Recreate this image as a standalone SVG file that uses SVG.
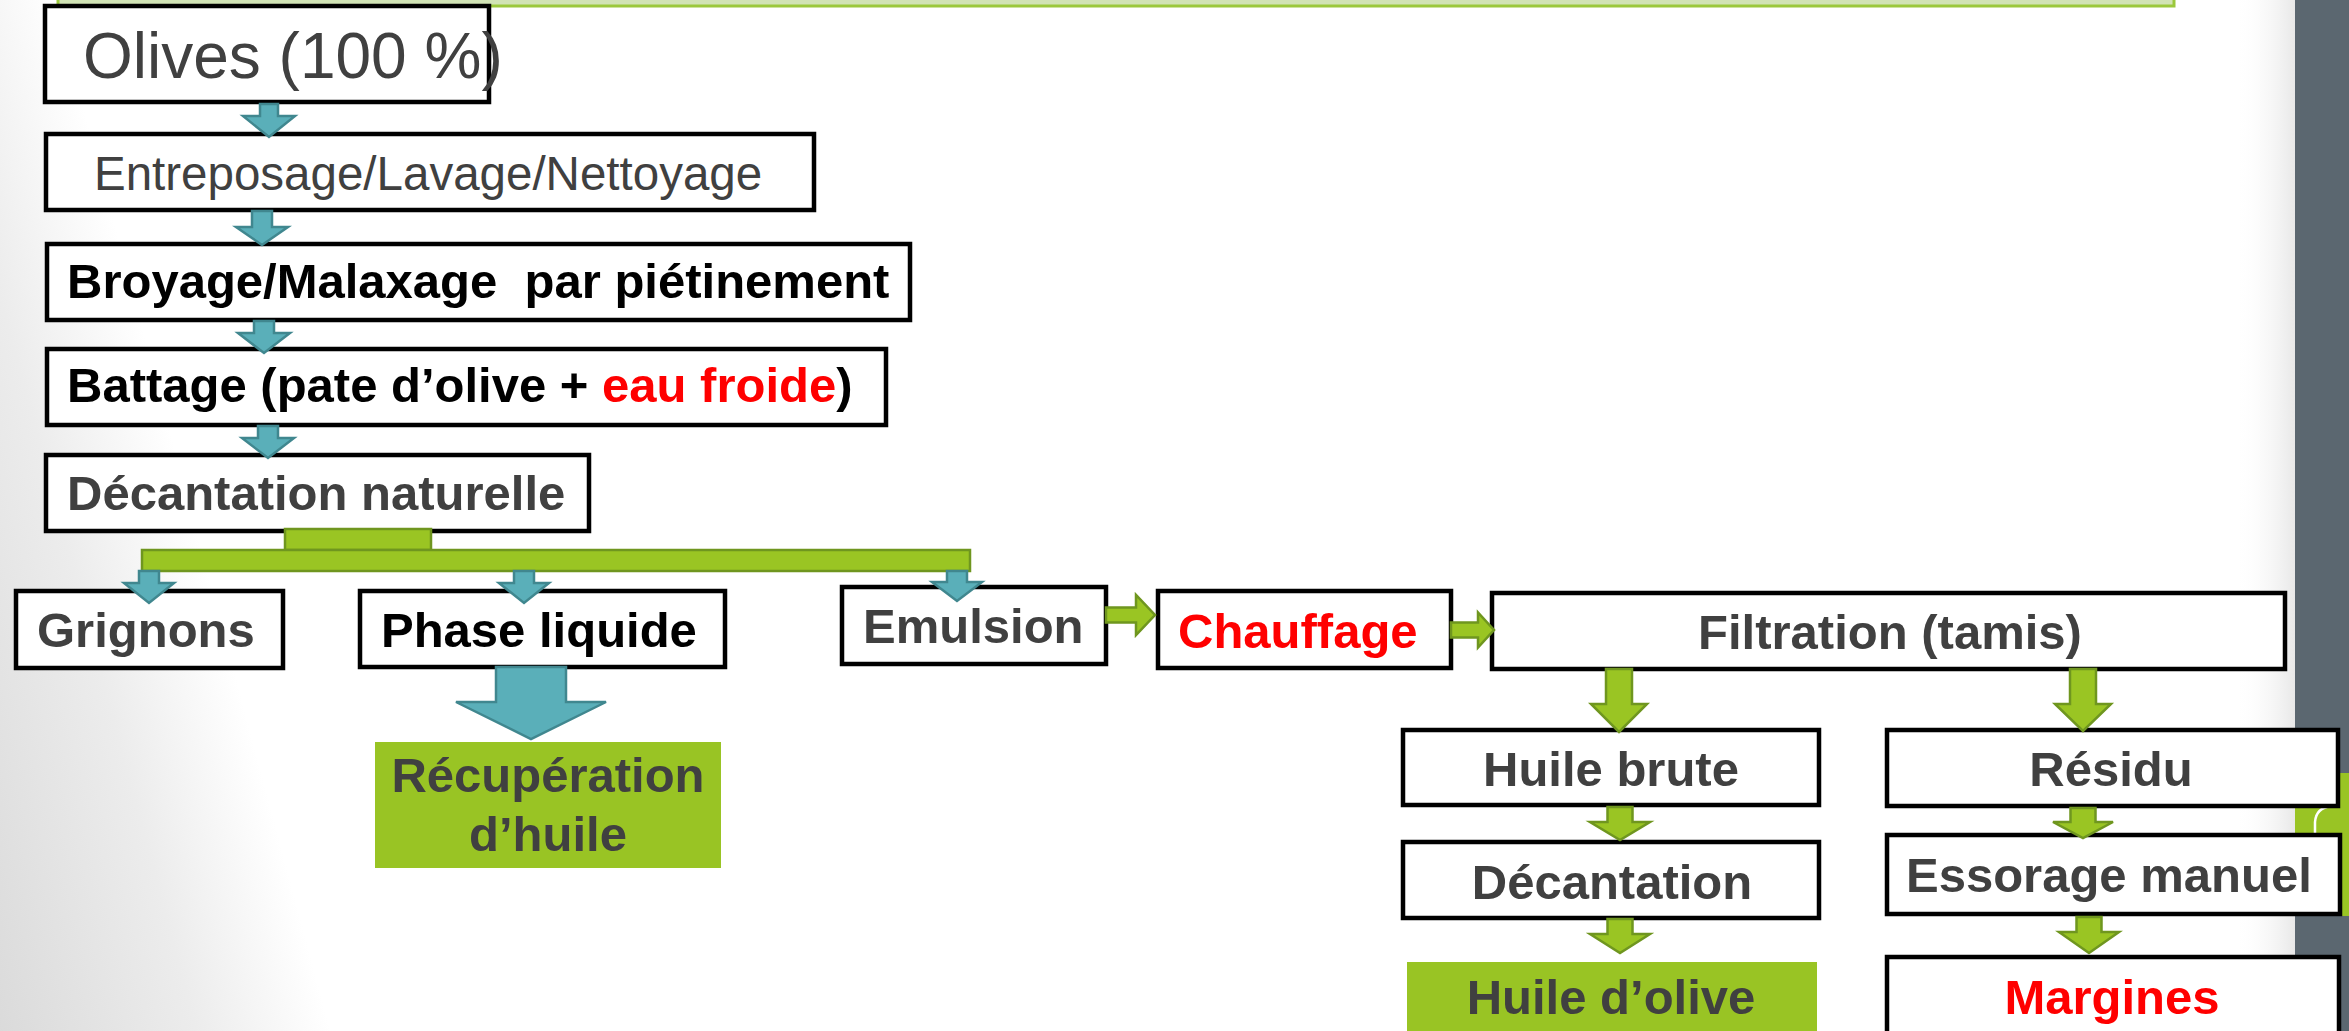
<svg xmlns="http://www.w3.org/2000/svg" width="2349" height="1031" viewBox="0 0 2349 1031">
<defs>
<style>
.box{fill:#fff;stroke:#000;stroke-width:4.5}
.gbox{fill:#99c424}
.t{font-family:"Liberation Sans",Arial,sans-serif}
.b{font-weight:bold;font-size:49px}
.g{fill:#404040}
.k{fill:#000}
.r{fill:#ff0000}
.teal{fill:#5aafb9;stroke:#40878f;stroke-width:2.5;stroke-linejoin:miter}
.grn{fill:#9ac523;stroke:#6f961f;stroke-width:2.5}
.mid{text-anchor:middle}
</style>
<linearGradient id="bgL" gradientUnits="userSpaceOnUse" x1="-259" y1="84" x2="55" y2="0">
<stop offset="0" stop-color="#dadada"/>
<stop offset="0.6" stop-color="#ececec"/>
<stop offset="1" stop-color="#ffffff"/>
</linearGradient>
<linearGradient id="shadowR" x1="0" y1="0" x2="1" y2="0">
<stop offset="0" stop-color="#ffffff" stop-opacity="0"/>
<stop offset="1" stop-color="#e8e8e8"/>
</linearGradient>
</defs>

<rect x="0" y="0" width="2349" height="1031" fill="#fff"/>
<polygon points="0,0 65,0 360,1031 0,1031" fill="url(#bgL)"/>
<rect x="2235" y="0" width="60" height="1031" fill="url(#shadowR)"/>
<rect x="58" y="-10" width="2116" height="16" fill="#d1e3b5" stroke="#9bc83c" stroke-width="3"/>
<rect x="2295" y="0" width="54" height="1031" fill="#5b6770"/>
<rect x="2295" y="773" width="54" height="143" fill="#99c424"/>
<path d="M2315,838 L2315,822 Q2316,808 2331,806" fill="none" stroke="#fff" stroke-width="2.5"/>

<g id="olives">
<rect class="box" x="45" y="6" width="444" height="96"/>
<text class="t g" x="83" y="78" font-size="64">Olives (100 %)</text>
</g>
<g id="entreposage">
<rect class="box" x="46" y="134" width="768" height="76"/>
<text class="t g" x="94" y="190" font-size="47.5">Entreposage/Lavage/Nettoyage</text>
</g>
<g id="broyage">
<rect class="box" x="47" y="244" width="863" height="76"/>
<text class="t b k" x="67" y="298" xml:space="preserve">Broyage/Malaxage  par piétinement</text>
</g>
<g id="battage">
<rect class="box" x="47" y="349" width="839" height="76"/>
<text class="t b k" x="67" y="402">Battage (pate d’olive + <tspan class="r">eau froide</tspan>)</text>
</g>
<g id="decantation-naturelle">
<rect class="box" x="46" y="455" width="543" height="76"/>
<text class="t b g" x="67" y="510">Décantation naturelle</text>
</g>
<g id="grignons">
<rect class="box" x="16" y="591" width="267" height="77"/>
<text class="t b g" x="37" y="647">Grignons</text>
</g>
<g id="phase-liquide">
<rect class="box" x="360" y="591" width="365" height="76"/>
<text class="t b k" x="381" y="647">Phase liquide</text>
</g>
<g id="emulsion">
<rect class="box" x="842" y="587" width="264" height="77"/>
<text class="t b g" x="863" y="643">Emulsion</text>
</g>
<g id="recuperation">
<rect class="gbox" x="375" y="742" width="346" height="126"/>
<text class="t b g mid" x="548" y="792">Récupération</text>
<text class="t b g mid" x="548" y="851">d’huile</text>
</g>
<g id="chauffage">
<rect class="box" x="1158" y="591" width="293" height="77"/>
<text class="t b r" x="1178" y="648">Chauffage</text>
</g>
<g id="filtration">
<rect class="box" x="1492" y="593" width="793" height="76"/>
<text class="t b g mid" x="1890" y="649">Filtration (tamis)</text>
</g>
<g id="huile-brute">
<rect class="box" x="1403" y="730" width="416" height="75"/>
<text class="t b g mid" x="1611" y="786">Huile brute</text>
</g>
<g id="residu">
<rect class="box" x="1887" y="730" width="451" height="76"/>
<text class="t b g mid" x="2111" y="786">Résidu</text>
</g>
<g id="decantation">
<rect class="box" x="1403" y="842" width="416" height="76"/>
<text class="t b g mid" x="1612" y="899">Décantation</text>
</g>
<g id="essorage">
<rect class="box" x="1887" y="835" width="453" height="79"/>
<text class="t b g" x="1906" y="892">Essorage manuel</text>
</g>
<g id="huile-olive">
<rect class="gbox" x="1407" y="962" width="410" height="80"/>
<text class="t b g mid" x="1611" y="1014">Huile d’olive</text>
</g>
<g id="margines">
<rect class="box" x="1887" y="957" width="452" height="100"/>
<text class="t b r mid" x="2112" y="1014">Margines</text>
</g>

<g id="connectors">
<polygon class="teal" points="260,104 278,104 278,116 295,116 269,137 243,116 260,116"/>
<polygon class="teal" points="252,211 272,211 272,227 288,227 262,245 236,227 252,227"/>
<polygon class="teal" points="254,321 274,321 274,333 290,333 264,353 238,333 254,333"/>
<polygon class="teal" points="258,426 278,426 278,438 294,438 268,458 242,438 258,438"/>
<rect class="grn" x="285" y="529" width="146" height="21"/>
<rect class="grn" x="142" y="550" width="828" height="21"/>
<polygon class="teal" points="139,571 159,571 159,583 174,583 149,603 124,583 139,583"/>
<polygon class="teal" points="514,571 534,571 534,583 549,583 524,603 499,583 514,583"/>
<polygon class="teal" points="947,571 967,571 967,582 982,582 957,601 932,582 947,582"/>
<polygon class="teal" points="496,667 566,667 566,702 606,702 531,739 456,702 496,702"/>
<polygon class="grn" points="1106,607.5 1136,607.5 1136,595 1155,615 1136,635 1136,622.5 1106,622.5"/>
<polygon class="grn" points="1451,622.5 1478,622.5 1478,612.5 1494,630 1478,647.5 1478,637.5 1451,637.5"/>
<polygon class="grn" points="1606,669 1632,669 1632,704 1647,704 1619,732 1591,704 1606,704"/>
<polygon class="grn" points="2070,669 2096,669 2096,704 2111,704 2083,731 2055,704 2070,704"/>
<polygon class="grn" points="1607.5,807 1632.5,807 1632.5,822 1650,822 1620,840 1590,822 1607.5,822"/>
<polygon class="grn" points="2070.5,808 2095.5,808 2095.5,822 2113,822 2083,838 2053,822 2070.5,822"/>
<polygon class="grn" points="1607.5,919 1632.5,919 1632.5,934 1650,934 1620,953 1590,934 1607.5,934"/>
<polygon class="grn" points="2076.5,917 2101.5,917 2101.5,932 2119,932 2089,953 2059,932 2076.5,932"/>
</g>
</svg>
